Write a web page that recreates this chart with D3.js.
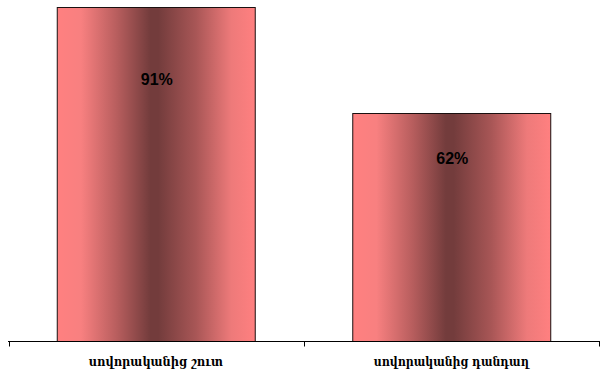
<!DOCTYPE html>
<html>
<head>
<meta charset="utf-8">
<script src="https://cdn.jsdelivr.net/npm/d3@7"></script>
<style>
  html, body { margin: 0; padding: 0; background: #fff; }
  svg { display: block; }
</style>
</head>
<body>
<svg id="chart" width="600" height="371"></svg>
<script>
// Category labels and their percentage values
const categories = ["սովորականից շուտ", "սովորականից դանդաղ"];
const values = [91, 62];
const valueLabels = ["91%", "62%"];

const svg = d3.select("#chart");
const margin = { left: 8, right: 0, top: 7, bottom: 30 };
const width = 600, height = 371;
const baseY = 341;

const x = d3.scaleBand()
  .domain(categories)
  .range([margin.left, width - 1])
  .paddingInner(0.33)
  .paddingOuter(0.165);

const y = d3.scaleLinear()
  .domain([0, 91])
  .range([baseY, margin.top]);

// Horizontal metallic-style gradient for the bars
const defs = svg.append("defs");
const grad = defs.append("linearGradient")
  .attr("id", "barGrad")
  .attr("x1", "0%").attr("x2", "100%").attr("y1", "0%").attr("y2", "0%");
[
  [0, "#ff8080"], [0.12, "#f88080"], [0.3, "#b85e5e"],
  [0.47, "#733c3c"], [0.51, "#733c3c"], [0.7, "#a85656"],
  [0.88, "#ee7a7a"], [1, "#ff8080"]
].forEach(([o, c]) => grad.append("stop").attr("offset", o).attr("stop-color", c));

// Bars
svg.append("g").selectAll("rect")
  .data(categories)
  .join("rect")
  .attr("x", d => x(d) + 0.5)
  .attr("y", (d, i) => Math.round(y(values[i])) + 0.5)
  .attr("width", x.bandwidth())
  .attr("height", (d, i) => baseY - Math.round(y(values[i])))
  .attr("fill", "url(#barGrad)")
  .attr("stroke", "#1a1010")
  .attr("stroke-width", 1);

// Value labels inside the bars
svg.append("g").selectAll("text")
  .data(categories)
  .join("text")
  .attr("x", d => x(d) + x.bandwidth() / 2 + 1)
  .attr("y", (d, i) => y(values[i] * 0.742) - 8)
  .attr("text-anchor", "middle")
  .attr("font-family", "Liberation Sans, Arial, sans-serif")
  .attr("font-weight", "bold")
  .attr("font-size", "16px")
  .attr("fill", "#000")
  .text((d, i) => valueLabels[i]);

// Category axis along the baseline
const axisG = svg.append("g").attr("transform", `translate(0,${baseY + 0.5})`);
axisG.append("line")
  .attr("x1", margin.left).attr("x2", width)
  .attr("stroke", "#000");
const tickXs = [margin.left + 0.5, (margin.left + width - 1) / 2, width - 1];
axisG.selectAll("line.tick")
  .data(tickXs)
  .join("line")
  .attr("class", "tick")
  .attr("x1", d => Math.round(d) + 0.5).attr("x2", d => Math.round(d) + 0.5)
  .attr("y1", 0).attr("y2", 5)
  .attr("stroke", "#000");

const labelWidths = [134, 155];
axisG.selectAll("text")
  .data(categories)
  .join("text")
  .attr("x", d => x(d) + x.bandwidth() / 2)
  .attr("y", 24)
  .attr("text-anchor", "middle")
  .attr("font-family", "DejaVu Serif, serif")
  .attr("font-weight", "bold")
  .attr("font-size", "13px")
  .attr("textLength", (d, i) => labelWidths[i])
  .attr("lengthAdjust", "spacingAndGlyphs")
  .attr("fill", "#000")
  .text(d => d);
</script>
</body>
</html>
